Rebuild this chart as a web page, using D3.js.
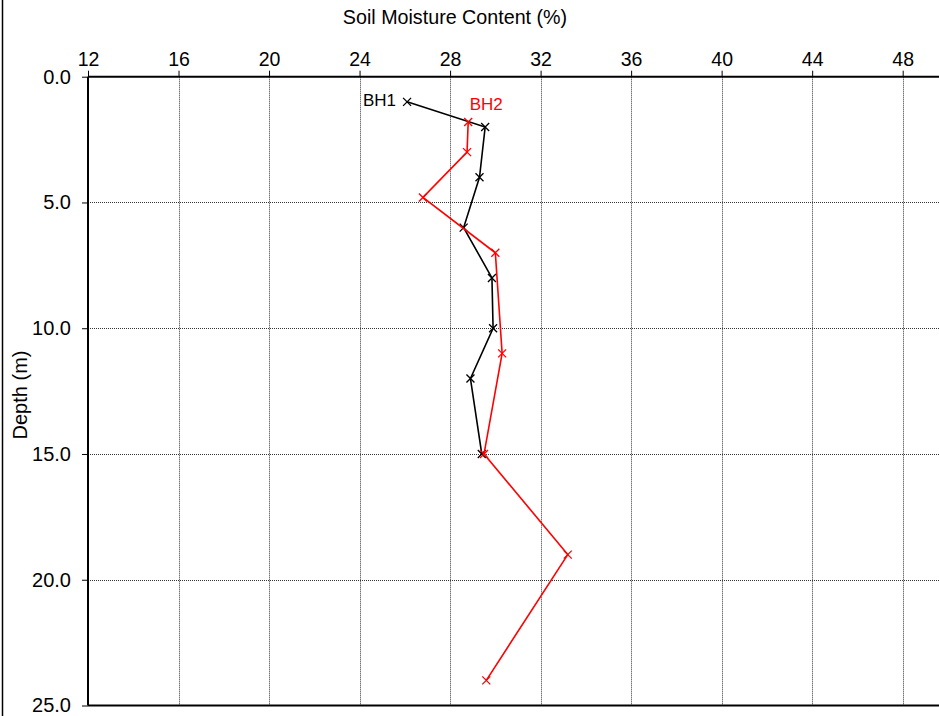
<!DOCTYPE html>
<html>
<head>
<meta charset="utf-8">
<script src="https://cdn.jsdelivr.net/npm/d3@7"></script>
<style>
html,body{margin:0;padding:0;background:#fff;}
svg{display:block;}
text{font-family:"Liberation Sans", Arial, sans-serif;}
</style>
</head>
<body>
<svg id="chart" width="939" height="716"></svg>
<script>
// Data
const xTicks = [12, 16, 20, 24, 28, 32, 36, 40, 44, 48];
const yTicks = [0, 5, 10, 15, 20, 25];
const bh1Moisture = [26.1, 29.55, 29.3, 28.6, 29.85, 29.9, 28.9, 29.4];
const bh1Depth    = [1.0, 2.0, 4.0, 6.0, 8.0, 10.0, 12.0, 15.0];
const bh2Moisture = [28.8, 28.75, 26.8, 30.0, 30.3, 29.5, 33.2, 29.6];
const bh2Depth    = [1.8, 3.0, 4.8, 7.0, 11.0, 15.0, 19.0, 24.0];
const seriesNames = ["BH1", "BH2"];
const seriesColors = ["#000000", "#ff0000"];

(function () {
const svg = d3.select("#chart");
const mLeft = 88, mTop = 76.7, mBottom = 705.5;
const pxPerUnit = 22.63;
const x = d3.scaleLinear().domain([12, 50]).range([mLeft, mLeft + 38 * pxPerUnit]);
const y = d3.scaleLinear().domain([0, 25]).range([mTop, mBottom]);

// frame line at left
svg.append("line").attr("x1", 2.5).attr("x2", 2.5).attr("y1", 0).attr("y2", 716)
  .attr("stroke", "#000").attr("stroke-width", 1.5);

// grid
const grid = svg.append("g");
grid.selectAll(".vg").data(xTicks.filter(d => d !== 12)).join("line")
  .attr("x1", d => Math.round(x(d)) + 0.5).attr("x2", d => Math.round(x(d)) + 0.5)
  .attr("y1", mTop).attr("y2", mBottom)
  .attr("stroke", "#333").attr("stroke-width", 1).attr("stroke-dasharray", "1,1");
grid.selectAll(".hg").data(yTicks.filter(d => d !== 0 && d !== 25)).join("line")
  .attr("x1", mLeft).attr("x2", 939)
  .attr("y1", d => Math.round(y(d)) + 0.5).attr("y2", d => Math.round(y(d)) + 0.5)
  .attr("stroke", "#333").attr("stroke-width", 1).attr("stroke-dasharray", "1,1");

// axes
const xAxis = d3.axisTop(x).tickValues(xTicks).tickSize(6).tickPadding(5).tickFormat(d3.format("d"));
const gx = svg.append("g").attr("transform", `translate(0,${mTop})`).call(xAxis);
gx.select(".domain").remove();
gx.selectAll(".tick line").attr("stroke", "#000").attr("stroke-width", 1);
gx.selectAll(".tick text").attr("font-size", 19.5).attr("fill", "#000")
  .attr("font-family", "'Liberation Sans', Arial, sans-serif");

const yAxis = d3.axisLeft(y).tickValues(yTicks).tickSize(6).tickPadding(11).tickFormat(d3.format(".1f"));
const gy = svg.append("g").attr("transform", `translate(${mLeft},0)`).call(yAxis);
gy.select(".domain").remove();
gy.selectAll(".tick line").attr("stroke", "#000").attr("stroke-width", 1);
gy.selectAll(".tick text").attr("font-size", 20).attr("fill", "#000")
  .attr("font-family", "'Liberation Sans', Arial, sans-serif");

// axis lines
svg.append("line").attr("x1", mLeft).attr("x2", 939).attr("y1", mTop).attr("y2", mTop)
  .attr("stroke", "#000").attr("stroke-width", 2);
svg.append("line").attr("x1", mLeft).attr("x2", 939).attr("y1", mBottom).attr("y2", mBottom)
  .attr("stroke", "#000").attr("stroke-width", 2);
svg.append("line").attr("x1", mLeft).attr("x2", mLeft).attr("y1", mTop).attr("y2", mBottom)
  .attr("stroke", "#000").attr("stroke-width", 2);

// titles
svg.append("text").attr("x", 455).attr("y", 24).attr("text-anchor", "middle")
  .attr("font-size", 19.7).text("Soil Moisture Content (%)");
svg.append("text").attr("transform", "translate(27,395) rotate(-90)").attr("text-anchor", "middle")
  .attr("font-size", 20).text("Depth (m)");

// series
const series = [
  {name: seriesNames[0], color: seriesColors[0], pts: bh1Moisture.map((m, i) => [m, bh1Depth[i]])},
  {name: seriesNames[1], color: seriesColors[1], pts: bh2Moisture.map((m, i) => [m, bh2Depth[i]])}
];
const line = d3.line().x(d => x(d[0])).y(d => y(d[1]));
const ms = 4;
series.forEach(s => {
  svg.append("path").attr("d", line(s.pts)).attr("fill", "none")
    .attr("stroke", s.color).attr("stroke-width", 1.6);
  svg.append("g").selectAll("path").data(s.pts).join("path")
    .attr("d", d => {
      const cx = x(d[0]), cy = y(d[1]);
      return `M${cx - ms},${cy - ms}L${cx + ms},${cy + ms}M${cx - ms},${cy + ms}L${cx + ms},${cy - ms}`;
    })
    .attr("stroke", s.color).attr("stroke-width", 1.3).attr("fill", "none");
});

// series labels
svg.append("text").attr("x", x(bh1Moisture[0]) - 11).attr("y", y(bh1Depth[0]) + 4.5)
  .attr("text-anchor", "end").attr("font-size", 17).attr("fill", seriesColors[0]).text(seriesNames[0]);
svg.append("text").attr("x", x(bh2Moisture[0]) + 18).attr("y", y(bh2Depth[0]) - 12)
  .attr("text-anchor", "middle").attr("font-size", 17).attr("fill", seriesColors[1]).text(seriesNames[1]);
})();
</script>
</body>
</html>
